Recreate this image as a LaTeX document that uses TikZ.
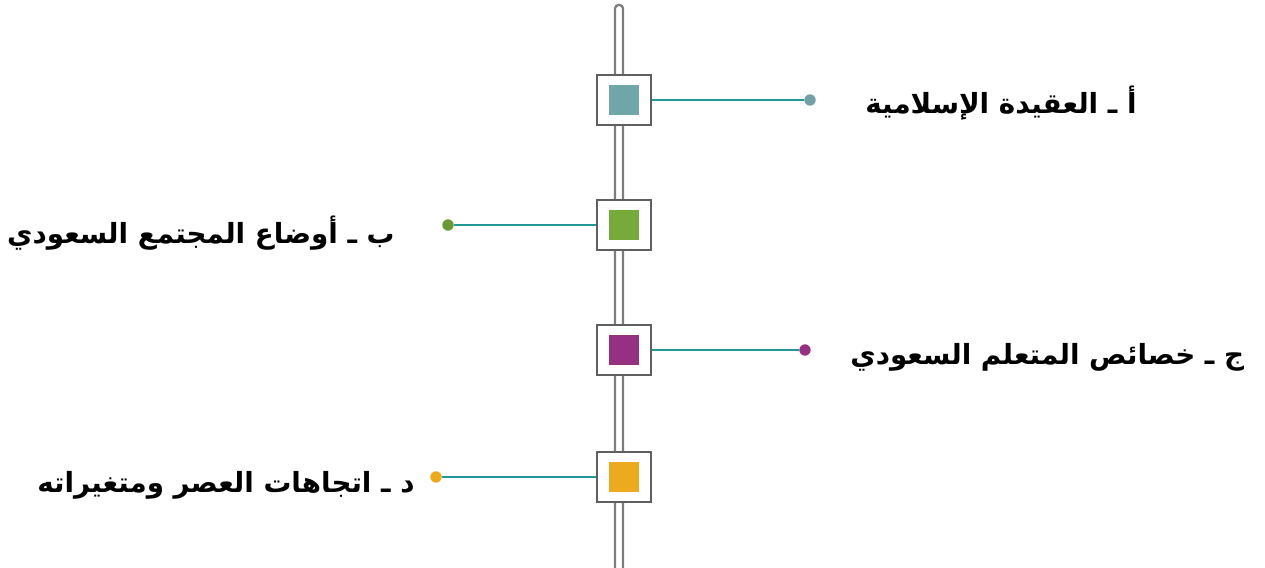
\documentclass[tikz,border=0pt]{standalone}
\usepackage{fontspec}
\newfontfamily\arabicfont[Script=Arabic]{DejaVu Sans}
\TeXXeTstate=1
\usepackage{xcolor}
\usepackage{tikz}
\usetikzlibrary{positioning}

\definecolor{railgray}{RGB}{125,125,125}
\definecolor{framegray}{RGB}{95,95,95}
\definecolor{linkteal}{RGB}{35,150,150}
\definecolor{chipA}{RGB}{112,166,170}
\definecolor{chipB}{RGB}{118,170,58}
\definecolor{chipC}{RGB}{150,48,128}
\definecolor{chipD}{RGB}{236,170,30}

\tikzset{
  rail/.style={railgray, line width=1.3pt, rounded corners=2pt},
  tickbox/.style={draw=framegray, line width=1.1pt, fill=white, minimum width=31pt, minimum height=28pt, inner sep=0pt},
  chip/.style={minimum size=17pt, inner sep=0pt},
  link/.style={linkteal, line width=1.2pt},
  dot/.style={circle, minimum size=6.5pt, inner sep=0pt},
  lbl/.style={font=\arabicfont\bfseries\fontsize{15.8}{19}\selectfont, inner sep=0pt}
}

\begin{document}
\begin{tikzpicture}[x=0.02cm,y=-0.02cm]
      \useasboundingbox (0,0) rectangle (1265,568);
      % the rail
      \draw [rail] (615,570) -- (615,5) -- (623,5) -- (623,570);
      % the four stops
      \node [tickbox] (boxA) at (624,100) {};
      \node [tickbox] (boxB) at (624,225) {};
      \node [tickbox] (boxC) at (624,350) {};
      \node [tickbox] (boxD) at (624,477) {};
      \node [chip, fill=chipA] at (boxA) {};
      \node [chip, fill=chipB] at (boxB) {};
      \node [chip, fill=chipC] at (boxC) {};
      \node [chip, fill=chipD] at (boxD) {};
      % ends of the links
      \node [dot, fill=chipA!85!gray] (dotA) at (810,100) {};
      \node [dot, fill=chipB!90!black] (dotB) at (448,225) {};
      \node [dot, fill=chipC] (dotC) at (805,350) {};
      \node [dot, fill=chipD] (dotD) at (436,477) {};
      \draw [link] (boxA.east) -- (dotA);
      \draw [link] (boxB.west) -- (dotB);
      \draw [link] (boxC.east) -- (dotC);
      \draw [link] (boxD.west) -- (dotD);
      % the texts
      \node [lbl, anchor=west] (txtA) at (865,103) {\beginR أ ـ العقيدة الإسلامية\endR};
      \node [lbl, anchor=east] (txtB) at (395,233) {\beginR ب ـ أوضاع المجتمع السعودي\endR};
      \node [lbl, anchor=west] (txtC) at (850,357) {\beginR ج ـ خصائص المتعلم السعودي\endR};
      \node [lbl, anchor=east] (txtD) at (415,485) {\beginR د ـ اتجاهات العصر ومتغيراته\endR};
\end{tikzpicture}
\end{document}
